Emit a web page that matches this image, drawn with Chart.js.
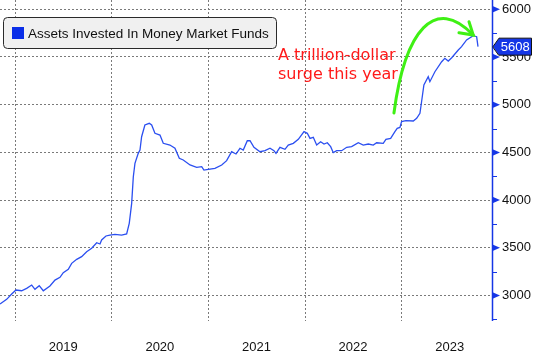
<!DOCTYPE html>
<html><head><meta charset="utf-8">
<script src="https://cdn.jsdelivr.net/npm/chart.js@4"></script>
<style>html,body{margin:0;padding:0;background:#fff;}canvas{display:block;}</style>
</head><body>
<canvas id="c" width="533" height="358"></canvas>
<script>
const seriesName = 'Assets Invested In Money Market Funds';
const years = [2018.842,2018.911,2018.963,2019.007,2019.066,2019.118,2019.170,2019.204,2019.248,2019.290,
2019.359,2019.411,2019.463,2019.497,2019.549,2019.584,2019.636,2019.687,2019.739,2019.791,
2019.843,2019.877,2019.894,2019.939,2019.980,2020.032,2020.101,2020.153,2020.180,2020.205,
2020.222,2020.239,2020.273,2020.291,2020.308,2020.342,2020.387,2020.412,2020.446,2020.498,
2020.532,2020.601,2020.653,2020.698,2020.739,2020.809,2020.878,2020.930,2020.953,2020.998,
2021.067,2021.137,2021.188,2021.240,2021.285,2021.326,2021.360,2021.402,2021.430,2021.471,
2021.533,2021.585,2021.637,2021.678,2021.699,2021.740,2021.792,2021.826,2021.878,2021.930,
2021.989,2022.023,2022.051,2022.085,2022.120,2022.161,2022.196,2022.230,2022.265,2022.292,
2022.327,2022.379,2022.431,2022.482,2022.551,2022.602,2022.654,2022.706,2022.741,2022.809,
2022.837,2022.886,2022.930,2022.954,2022.982,2022.999,2023.044,2023.120,2023.155,2023.189,
2023.206,2023.230,2023.275,2023.292,2023.344,2023.414,2023.447,2023.482,2023.518,2023.586,
2023.620,2023.672,2023.741,2023.776,2023.790];
const values = [2911,2960,3016,3058,3050,3075,3110,3065,3103,3050,
3100,3162,3191,3239,3275,3337,3379,3407,3459,3495,
3553,3540,3582,3624,3634,3641,3634,3645,3757,3966,
4245,4385,4490,4525,4664,4787,4805,4787,4700,4682,
4595,4577,4543,4438,4420,4368,4343,4350,4315,4322,
4333,4368,4413,4507,4483,4543,4525,4622,4622,4553,
4507,4518,4543,4518,4490,4553,4532,4577,4595,4637,
4717,4700,4647,4658,4577,4612,4588,4601,4560,4497,
4518,4518,4553,4560,4601,4577,4588,4577,4601,4595,
4637,4647,4717,4752,4762,4822,4832,4829,4857,4909,
5031,5206,5293,5241,5345,5450,5486,5457,5492,5573,
5608,5678,5723,5713,5608];
const xTickYears = [2019,2020,2021,2022,2023];
const yTicks = [3000,3500,4000,4500,5000,5500,6000];
const yMinorTicks = [2750,3250,3750,4250,4750,5250,5750];
const annotationLines = ['A trillion-dollar','surge this year'];
// annotation anchors in data units (year, value)
const noteAnchor = [2021.72, 5468];
const arrowPath = [[2022.920,4913],[2023.034,5782],[2023.345,6149],[2023.741,5730]];
const arrowWings = [[2023.593,5754],[2023.697,5869]];

const BLUE = '#1536e6';
const LINE = '#2b4ff0';
const GRID = '#7a7a7a';

const overlay = {
  id: 'overlay',
  afterDraw(chart) {
    const {ctx, scales: {x, y}} = chart;
    const ax = y.left;
    ctx.save();
    // y axis line
    ctx.strokeStyle = BLUE; ctx.lineWidth = 1.5;
    ctx.beginPath(); ctx.moveTo(ax + 0.5, y.top); ctx.lineTo(ax + 0.5, y.bottom); ctx.stroke();
    // major tick triangles
    ctx.fillStyle = BLUE;
    yTicks.forEach(v => {
      const py = y.getPixelForValue(v);
      ctx.beginPath(); ctx.moveTo(ax, py - 3.5); ctx.lineTo(ax + 8, py); ctx.lineTo(ax, py + 3.5); ctx.closePath(); ctx.fill();
    });
    // minor ticks
    ctx.lineWidth = 1;
    yMinorTicks.forEach(v => {
      const py = Math.round(y.getPixelForValue(v)) + 0.5;
      ctx.beginPath(); ctx.moveTo(ax, py); ctx.lineTo(ax + 5, py); ctx.stroke();
    });
    // legend box
    ctx.fillStyle = '#f0f0f0'; ctx.strokeStyle = '#2a2a2a'; ctx.lineWidth = 1;
    ctx.beginPath(); ctx.roundRect(3.5, 17.5, 273, 31, 4); ctx.fill(); ctx.stroke();
    ctx.fillStyle = '#0a2ee8';
    ctx.fillRect(12, 27, 12, 12);
    ctx.fillStyle = '#111';
    ctx.font = '13.5px "Liberation Sans"';
    ctx.textBaseline = 'middle'; ctx.textAlign = 'left';
    ctx.fillText(seriesName, 28, 34);
    // annotation text
    ctx.fillStyle = '#ff1a1a';
    ctx.font = '16px "DejaVu Sans"';
    ctx.textBaseline = 'alphabetic';
    const tx = x.getPixelForValue(noteAnchor[0]);
    const ty = y.getPixelForValue(noteAnchor[1]);
    annotationLines.forEach((s, i) => ctx.fillText(s, tx, ty + i * 19));
    // green arrow
    const P = arrowPath.map(p => [x.getPixelForValue(p[0]), y.getPixelForValue(p[1])]);
    ctx.strokeStyle = '#3ff014'; ctx.lineWidth = 3; ctx.lineCap = 'round';
    ctx.beginPath(); ctx.moveTo(P[0][0], P[0][1]);
    ctx.bezierCurveTo(P[1][0], P[1][1], P[2][0], P[2][1], P[3][0], P[3][1]);
    ctx.stroke();
    const W = arrowWings.map(p => [x.getPixelForValue(p[0]), y.getPixelForValue(p[1])]);
    ctx.beginPath();
    ctx.moveTo(W[0][0], W[0][1]); ctx.lineTo(P[3][0], P[3][1]); ctx.lineTo(W[1][0], W[1][1]);
    ctx.stroke();
    // last value label
    const last = values[values.length - 1];
    const ly = y.getPixelForValue(last);
    ctx.fillStyle = BLUE; ctx.strokeStyle = '#111'; ctx.lineWidth = 1;
    ctx.beginPath();
    ctx.moveTo(ax + 1, ly);
    ctx.lineTo(ax + 7, ly - 8.5);
    ctx.lineTo(chart.width - 1.5, ly - 8.5);
    ctx.lineTo(chart.width - 1.5, ly + 8.5);
    ctx.lineTo(ax + 7, ly + 8.5);
    ctx.closePath(); ctx.fill(); ctx.stroke();
    ctx.fillStyle = '#fff';
    ctx.font = '13px "Liberation Sans"';
    ctx.textAlign = 'center'; ctx.textBaseline = 'middle';
    ctx.fillText(String(last), (ax + 7 + chart.width - 1.5) / 2, ly + 0.5);
    ctx.restore();
  }
};

Chart.defaults.font.family = '"Liberation Sans", Arial, sans-serif';
Chart.defaults.font.size = 13;
Chart.defaults.color = '#111';

new Chart(document.getElementById('c'), {
  type: 'line',
  data: {
    datasets: [{
      label: seriesName,
      data: years.map((t, i) => ({x: t, y: values[i]})),
      borderColor: LINE,
      borderWidth: 1.3,
      pointRadius: 0,
      tension: 0,
      fill: false
    }]
  },
  options: {
    responsive: false,
    animation: false,
    devicePixelRatio: 1,
    layout: {padding: 0},
    plugins: {legend: {display: false}, tooltip: {enabled: false}},
    scales: {
      x: {
        type: 'linear',
        min: 2018.842,
        max: 2023.935,
        afterBuildTicks: s => { s.ticks = xTickYears.map(v => ({value: v})); },
        afterFit: s => { s.height = 37; s.paddingLeft = 0; s.paddingRight = 0; },
        grid: {color: GRID, lineWidth: 1, drawTicks: false},
        border: {display: false, dash: [2, 2]},
        ticks: {callback: v => String(v), labelOffset: 48, padding: 19, maxRotation: 0, autoSkip: false, color: '#111'}
      },
      y: {
        position: 'right',
        min: 2733,
        max: 6097,
        afterBuildTicks: s => { s.ticks = yTicks.map(v => ({value: v})); },
        afterFit: s => { s.width = 41; s.paddingTop = 0; s.paddingBottom = 0; },
        grid: {color: GRID, lineWidth: 1, drawTicks: false},
        border: {display: false, dash: [2, 2]},
        ticks: {callback: v => String(v), padding: 10, color: '#111'}
      }
    }
  },
  plugins: [overlay]
});
</script>
</body></html>
